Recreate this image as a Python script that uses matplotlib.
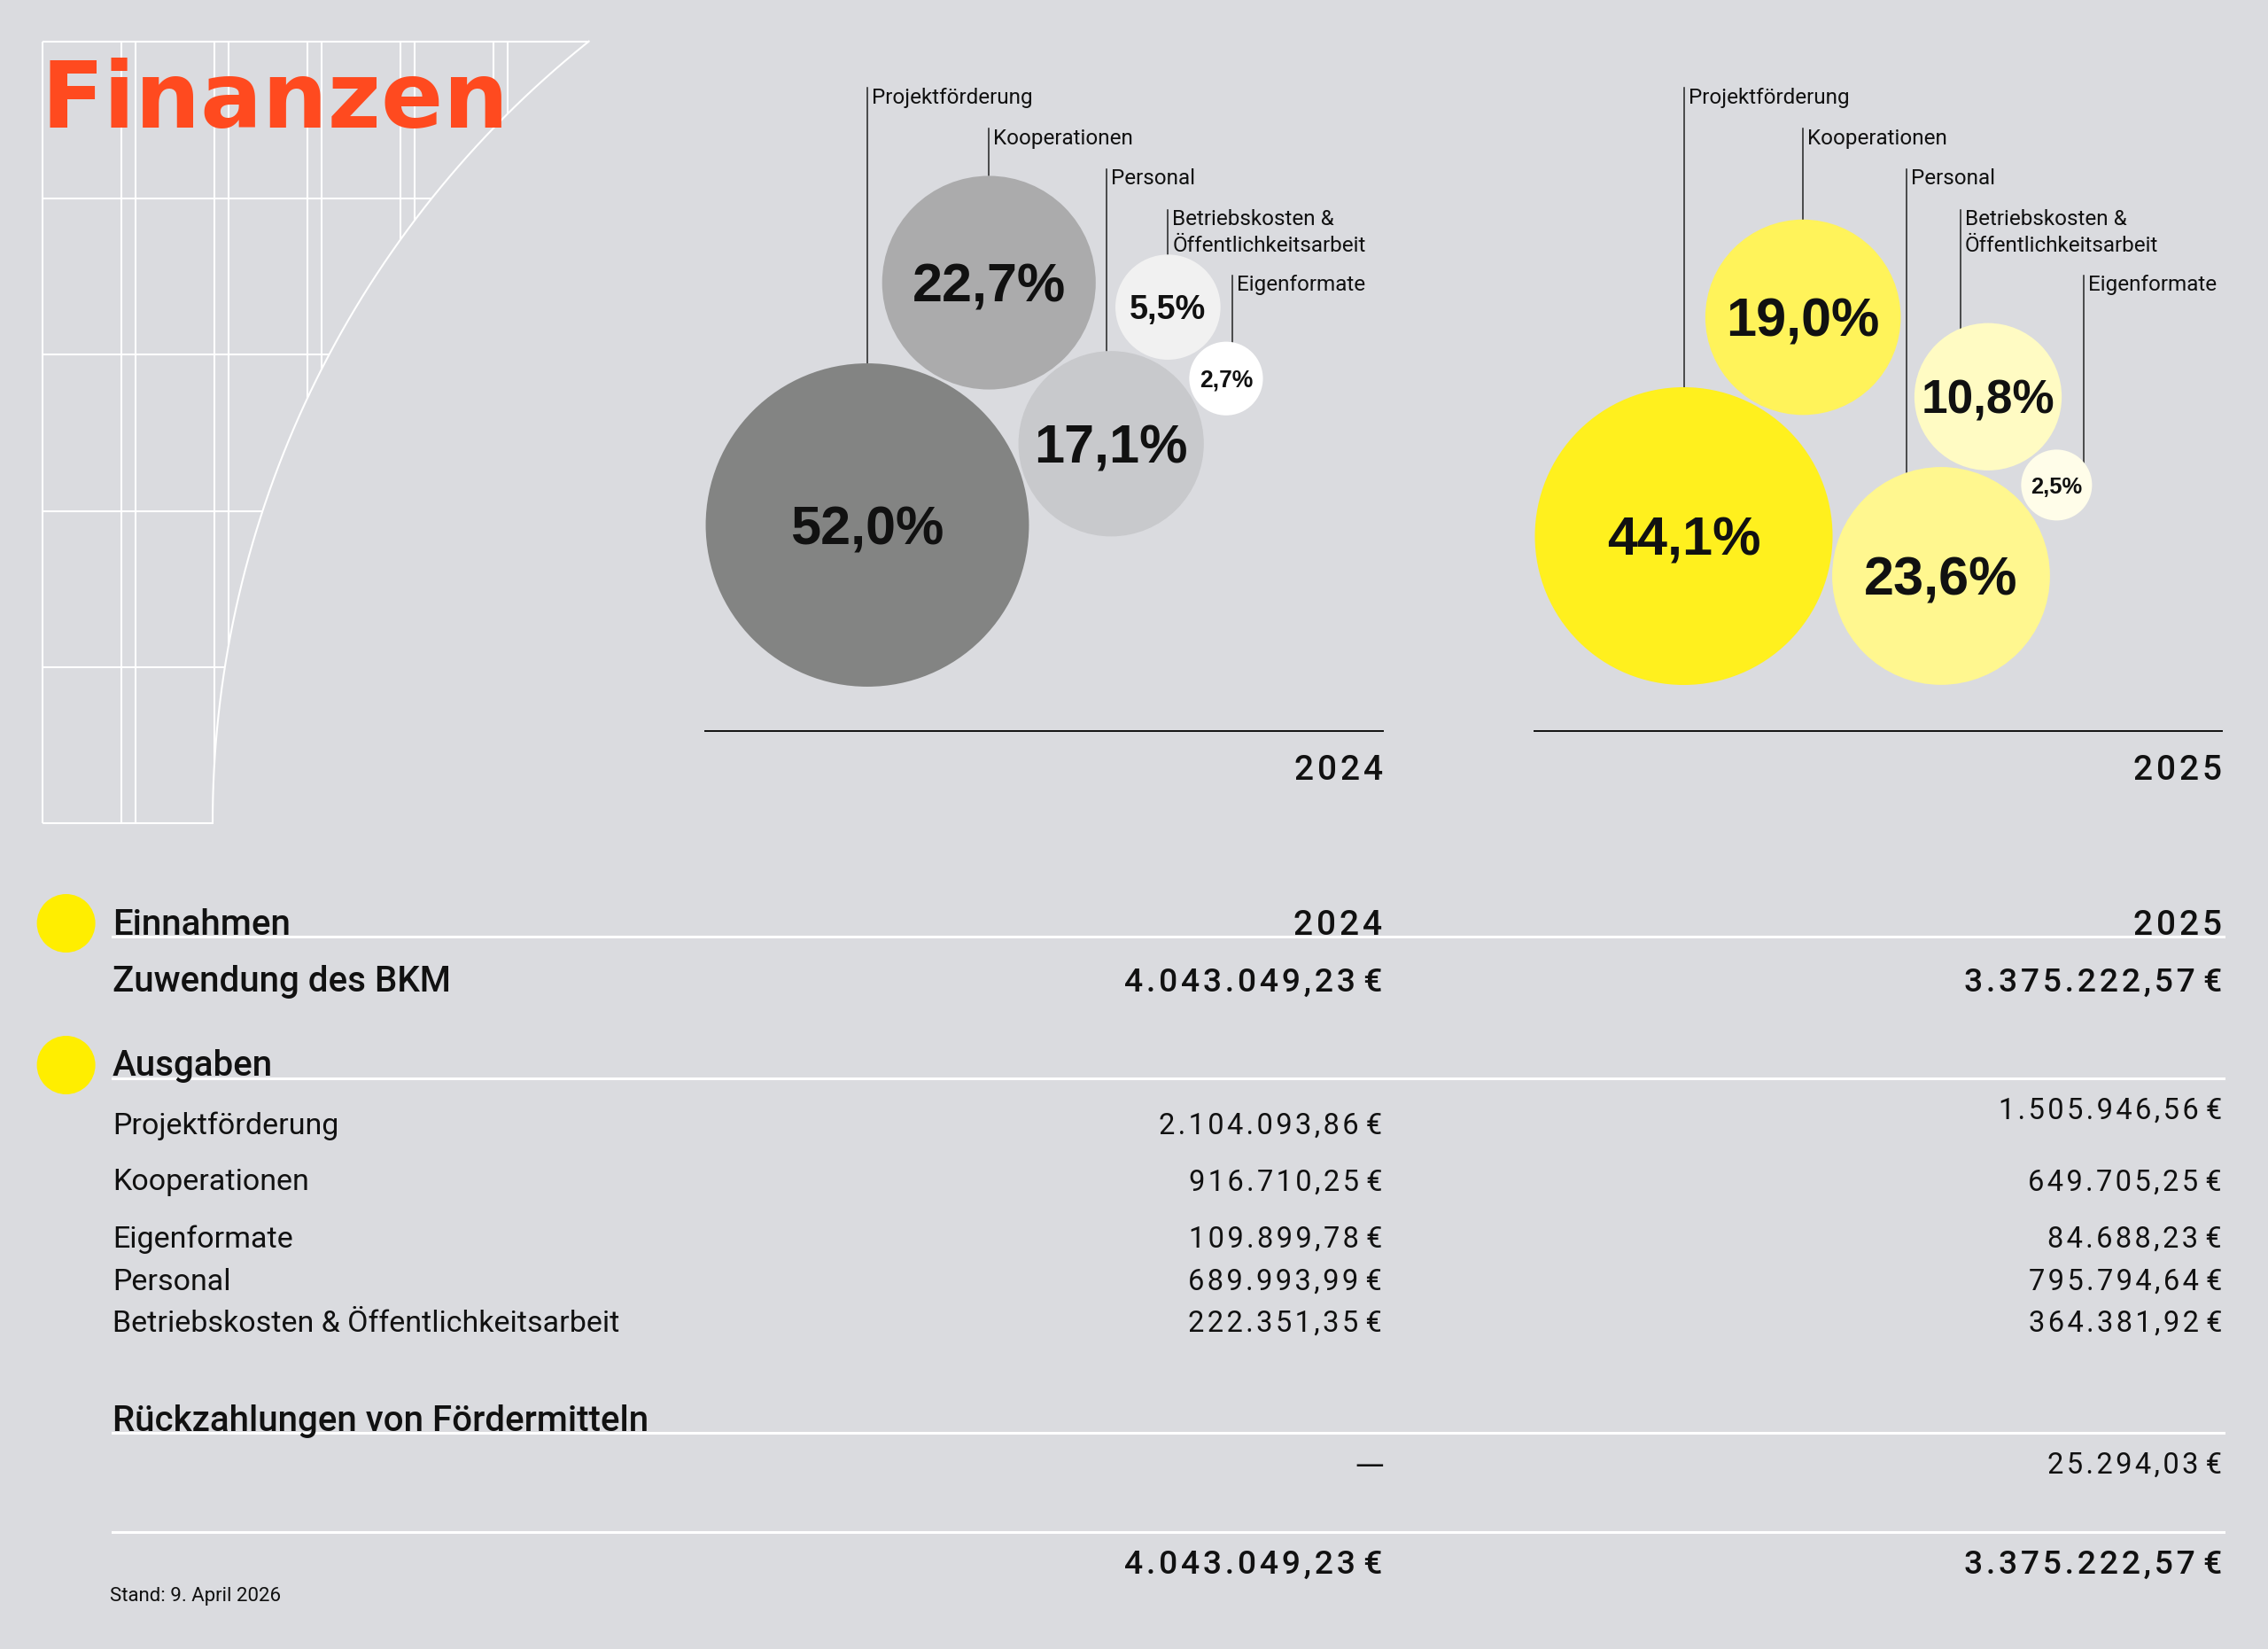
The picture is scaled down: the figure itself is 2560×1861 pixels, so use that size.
import numpy as np
import matplotlib
matplotlib.use("Agg")
import matplotlib.pyplot as plt
from matplotlib.patches import Circle

plt.rcParams['font.family'] = ['Roboto', 'DejaVu Sans']

# --- Daten ---
kategorien = ["Projektförderung", "Kooperationen", "Personal",
              "Betriebskosten &\nÖffentlichkeitsarbeit", "Eigenformate"]
anteil_2024 = [52.0, 22.7, 17.1, 5.5, 2.7]
anteil_2025 = [44.1, 19.0, 23.6, 10.8, 2.5]
jahre = ["2024", "2025"]

posten = ["Projektförderung", "Kooperationen", "Eigenformate", "Personal",
          "Betriebskosten & Öffentlichkeitsarbeit"]
ausgaben_2024 = [2104093.86, 916710.25, 109899.78, 689993.99, 222351.35]
ausgaben_2025 = [1505946.56, 649705.25, 84688.23, 795794.64, 364381.92]
zuwendung = [4043049.23, 3375222.57]
rueckzahlung = [None, 25294.03]
summe = [4043049.23, 3375222.57]

# --- Layout ---
W, H = 2560, 1861
BG = "#dadbdf"
DUNKEL = "#111111"
GELB = "#ffee00"

fig = plt.figure(figsize=(W / 100, H / 100), dpi=100, facecolor=BG)
ax = fig.add_axes([0, 0, 1, 1])
ax.set_xlim(0, W)
ax.set_ylim(H, 0)
ax.axis('off')


def sperren(s):
    # etwas Laufweite fuer Zahlen (Haarspatium zwischen den Zeichen)
    return "\u200a".join(s)


def eur(v):
    s = f"{v:,.2f}".replace(",", "X").replace(".", ",").replace("X", ".")
    return sperren(s) + " €"


# Hintergrund-Raster oben links (weiss, durch Bogen begrenzt)
gx = [47.8, 137, 153, 242, 258, 347, 363, 452, 468, 557, 573]
gy = [46.7, 223.6, 400, 577, 753, 929]
bc = (1369, 929)
br = 1129
for x in gx:
    dx = bc[0] - x
    ende = gy[-1] if abs(dx) >= br else bc[1] - np.sqrt(br**2 - dx**2)
    ax.plot([x, x], [gy[0], ende], color="white", lw=1.5, solid_capstyle='butt')
for y in gy:
    dy = bc[1] - y
    ende = bc[0] - np.sqrt(br**2 - dy**2)
    ax.plot([gx[0], ende], [y, y], color="white", lw=1.5, solid_capstyle='butt')
th0 = np.arctan2(gy[0] - bc[1], (bc[0] - np.sqrt(br**2 - (bc[1] - gy[0])**2)) - bc[0])
th = np.linspace(np.pi, 2 * np.pi + th0 if th0 < 0 else th0, 200)
ax.plot(bc[0] + br * np.cos(th), bc[1] + br * np.sin(th), color="white", lw=1.5)

ax.text(47, 144, "Finanzen", color="#ff4a1f", fontsize=74.5, fontweight='bold',
        family='DejaVu Sans', va='baseline', ha='left')

# --- Blasen ---
K = 25.3
GAP = 3


def packen(werte, start, regeln):
    r = [K * np.sqrt(v) for v in werte]
    c = [np.array(start, float)] + [None] * (len(werte) - 1)
    for i, regel in enumerate(regeln, start=1):
        if regel[0] == 'an':
            j, w = regel[1], np.radians(regel[2])
            d = r[j] + r[i] + GAP
            c[i] = c[j] + d * np.array([np.cos(w), np.sin(w)])
        else:
            j, k = regel[1], regel[2]
            d1 = r[j] + r[i] + GAP
            d2 = r[k] + r[i] + GAP
            v = c[k] - c[j]
            D = np.hypot(*v)
            u = v / D
            a = (d1**2 - d2**2 + D**2) / (2 * D)
            h = np.sqrt(max(d1**2 - a**2, 0))
            n = np.array([-u[1], u[0]])
            p0 = c[j] + a * u
            c[i] = max([p0 + h * n, p0 - h * n], key=lambda p: p[0])
    return c, r


panels = [
    dict(werte=anteil_2024, start=(979, 592.5),
         regeln=[('an', 0, -63.35), ('zwei', 0, 1), ('an', 2, -67.4), ('zwei', 2, 3)],
         farben=["#838483", "#ababac", "#c8c9cc", "#f1f1f1", "#ffffff"],
         versatz=[0, 0, -5, 0, 7], x0=796, x1=1561),
    dict(werte=anteil_2025, start=(1900.5, 605),
         regeln=[('an', 0, -61.4), ('an', 0, 8.8), ('an', 2, -75.3), ('zwei', 2, 3)],
         farben=["#fff01e", "#fff35a", "#fff78f", "#fffbc3", "#fffde9"],
         versatz=[0, 0, -39, -31, 31], x0=1732, x1=2508),
]
label_basis = [116.7, 162.7, 208, 254, 328]

for p, jahr in zip(panels, jahre):
    zentren, radien = packen(p['werte'], p['start'], p['regeln'])
    for i, (c, r, v) in enumerate(zip(zentren, radien, p['werte'])):
        ax.add_patch(Circle(c, r, facecolor=p['farben'][i], edgecolor='none', zorder=2))
        fs = min(44, 0.46 * r)
        cap = fs * 100 / 72 * 0.716
        ax.text(c[0], c[1] + cap / 2, f"{v:.1f}".replace(".", ",") + "%",
                family=['Liberation Sans', 'DejaVu Sans'], fontsize=fs, fontweight='bold',
                color=DUNKEL, ha='center', va='baseline', zorder=3)
        # Beschriftung mit Linie
        lx = c[0] + p['versatz'][i]
        unten = c[1] - np.sqrt(r**2 - p['versatz'][i]**2)
        oben = label_basis[i] - 17.5
        ax.plot([lx, lx], [oben, unten], color="#222222", lw=1.1, zorder=1)
        for z, zeile in enumerate(kategorien[i].split("\n")):
            ax.text(lx + 5, label_basis[i] + z * 30, zeile, fontsize=17.5,
                    color=DUNKEL, ha='left', va='baseline')
    ax.plot([p['x0'], p['x1']], [824.5, 824.5], color=DUNKEL, lw=1.4)
    ax.text(p['x1'], 879.5, sperren(jahr), fontsize=28, fontweight='medium',
            color=DUNKEL, ha='right', va='baseline')

# --- Tabelle ---
xl = 127
xr = [1560, 2508]
lin_x = [127, 2510]
FS_KOPF = 29
FS_ZEILE = 24.5
FS_BETRAG = 26.8

for y in [1042, 1202]:
    ax.add_patch(Circle((74.6, y), 33, facecolor=GELB, edgecolor='none'))

ax.plot(lin_x, [1056.5, 1056.5], color="white", lw=2.2, zorder=0)
ax.text(xl, 1055, "Einnahmen", fontsize=FS_KOPF, fontweight='medium', color=DUNKEL, va='baseline')
for j, x in zip(jahre, xr):
    ax.text(x, 1055, sperren(j), fontsize=28, fontweight='medium', color=DUNKEL, ha='right', va='baseline')

ax.text(xl, 1119, "Zuwendung des BKM", fontsize=FS_KOPF, fontweight='medium', color=DUNKEL, va='baseline')
for v, x in zip(zuwendung, xr):
    ax.text(x, 1119, eur(v), fontsize=FS_BETRAG, fontweight='medium', color=DUNKEL, ha='right', va='baseline')

ax.plot(lin_x, [1216.5, 1216.5], color="white", lw=2.2, zorder=0)
ax.text(xl, 1214, "Ausgaben", fontsize=FS_KOPF, fontweight='medium', color=DUNKEL, va='baseline')

zeilen_y = [1280, 1343.5, 1408, 1456, 1503]
zeilen_y_2025 = [1263, 1343.5, 1408, 1456, 1503]
for name, a24, a25, y, y25 in zip(posten, ausgaben_2024, ausgaben_2025, zeilen_y, zeilen_y_2025):
    ax.text(xl, y, name, fontsize=FS_ZEILE, color=DUNKEL, va='baseline')
    ax.text(xr[0], y, eur(a24), fontsize=23.5, color=DUNKEL, ha='right', va='baseline')
    ax.text(xr[1], y25, eur(a25), fontsize=23.5, color=DUNKEL, ha='right', va='baseline')

ax.plot(lin_x, [1616.7, 1616.7], color="white", lw=2.2, zorder=0)
ax.text(xl, 1615, "Rückzahlungen von Fördermitteln", fontsize=FS_KOPF, fontweight='medium',
        color=DUNKEL, va='baseline')
for v, x in zip(rueckzahlung, xr):
    if v is None:
        ax.text(x + 2, 1663, "—", fontsize=23.5, family='DejaVu Sans', color=DUNKEL,
                ha='right', va='baseline')
    else:
        ax.text(x, 1663, eur(v), fontsize=23.5, color=DUNKEL, ha='right', va='baseline')

ax.plot(lin_x, [1729, 1729], color="white", lw=2.2, zorder=0)
for v, x in zip(summe, xr):
    ax.text(x, 1776, eur(v), fontsize=FS_BETRAG, fontweight='medium', color=DUNKEL, ha='right', va='baseline')

ax.text(124, 1807, "Stand: 9. April 2026", fontsize=16, color=DUNKEL, va='baseline')

fig.savefig("out.png", dpi=100, facecolor=BG)
